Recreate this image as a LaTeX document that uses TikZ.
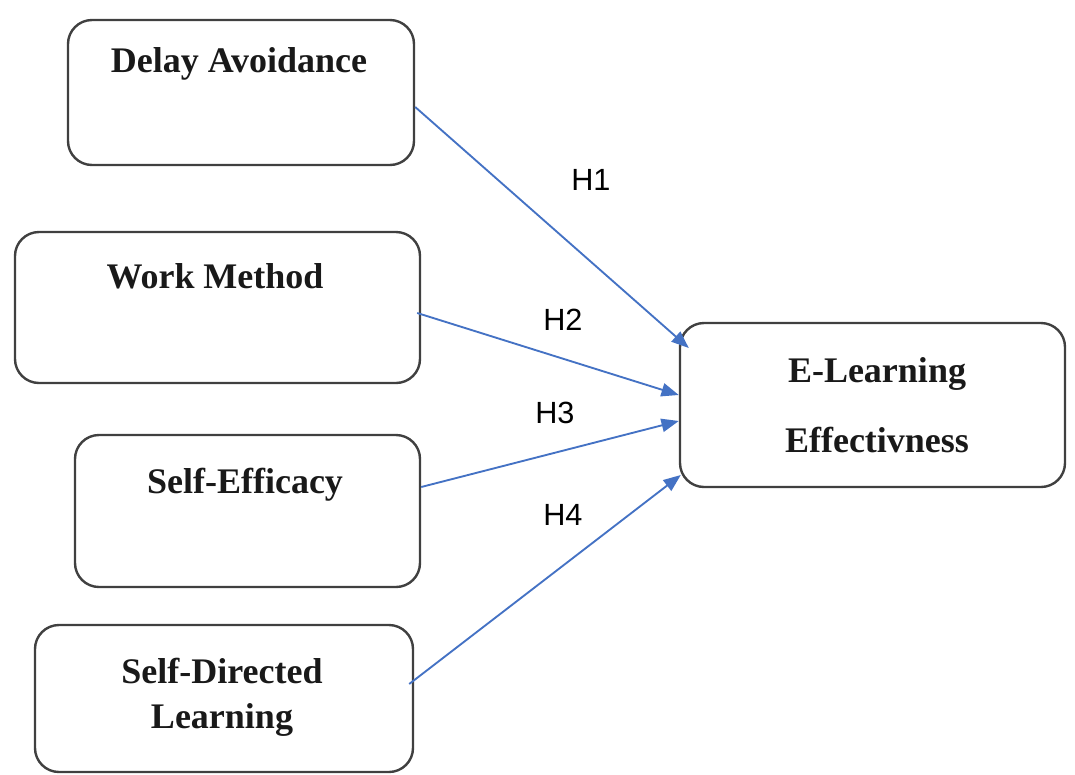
\documentclass[tikz,border=0pt]{standalone}
\usepackage{fontspec}
\setmainfont{Liberation Serif}
\newfontfamily\hfont{Liberation Sans}
\usetikzlibrary{arrows.meta,fit,calc}
\definecolor{arrblue}{HTML}{4472C4}
\definecolor{boxgray}{HTML}{404040}
\begin{document}
\begin{tikzpicture}[x=0.75pt,y=-0.75pt,
  box/.style={draw=boxgray, line width=1.8pt, rounded corners=18pt, inner sep=0pt},
  lbl/.style={font=\fontsize{27}{32}\selectfont\bfseries, anchor=base, inner sep=0pt, text=black!90},
  hyp/.style={font=\hfont\fontsize{23}{27}\selectfont, anchor=base west, inner sep=0pt},
  arr/.style={draw=arrblue, line width=1.4pt, -{Triangle[length=13pt,width=10pt,fill=arrblue]}}]
\useasboundingbox (0,0) rectangle (1075,775);
% boxes
\node[box, fit={(68,20) (414,165)}] (b1) {};
\node[box, fit={(15,232) (420,383)}] (b2) {};
\node[box, fit={(75,435) (420,587)}] (b3) {};
\node[box, fit={(35,625) (413,772)}] (b4) {};
\node[box, fit={(680,323) (1065,487)}] (e) {};
% box texts
\node[lbl] (t1) at (239,72) {Delay Avoidance};
\node[lbl] (t2) at (215,288) {Work Method};
\node[lbl] (t3) at (245,493) {Self-Efficacy};
\node[lbl] (t4a) at (222,683) {Self-Directed};
\node[lbl] (t4b) at (222,728) {Learning};
\node[lbl] (te1) at (877,382) {E-Learning};
\node[lbl] (te2) at (877,452) {Effectivness};
% connectors
\draw[arr] (b1.east |- 0,107) -- ($(e.west |- 0,348)+(10,0)$);
\draw[arr] ($(b2.east |- 0,313)+(-4,0)$) -- (e.west |- 0,395);
\draw[arr] (b3.east |- 0,487) -- (e.west |- 0,421);
\draw[arr] ($(b4.east |- 0,684)+(-5,0)$) -- ($(e.west |- 0,475)+(2,0)$);
% labels
\node[hyp] (h1) at (571,190) {H1};
\node[hyp] (h2) at (543,330) {H2};
\node[hyp] (h3) at (535,423) {H3};
\node[hyp] (h4) at (543,525) {H4};
\end{tikzpicture}
\end{document}
